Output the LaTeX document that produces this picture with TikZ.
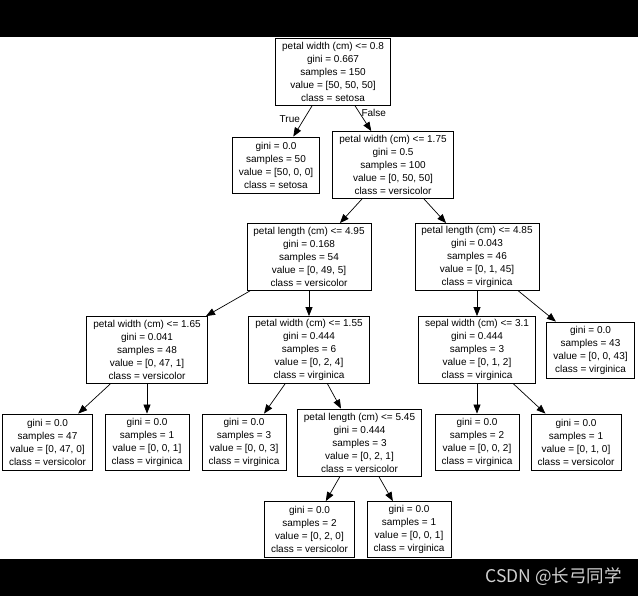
\documentclass[tikz,border=0pt]{standalone}
\usepackage{fontspec}
\setmainfont{Liberation Sans}
\newfontfamily\cjkfont{Noto Sans CJK SC}
\usetikzlibrary{arrows.meta}

\tikzset{
  splitbox/.style={draw, line width=0.8pt, align=center, inner xsep=6.5pt, inner ysep=0pt,
    minimum height=67pt, font=\fontsize{10}{13}\selectfont},
  leafbox/.style={splitbox, minimum height=56pt},
  treeedge/.style={line width=0.7pt, -{Triangle[length=9pt,width=7pt]}},
  edgelabel/.style={font=\fontsize{10}{13}\selectfont, inner sep=1.5pt},
}

\begin{document}
\begin{tikzpicture}[x=1pt, y=-1pt]

    \useasboundingbox (0,0) rectangle (638,596);
    \fill[white] (0,0) rectangle (638,596);
    \fill[black] (0,0) rectangle (638,37);
    \fill[black] (0,559) rectangle (638,596);
    \node[text=white!82!black, font=\cjkfont\fontsize{17.5}{20}\selectfont] (mark) at (553.5,577) {CSDN @长弓同学};

    \node[splitbox] (root) at (333,71.5) {petal width (cm) <= 0.8\\gini = 0.667\\samples = 150\\value = [50, 50, 50]\\class = setosa};
    \node[leafbox] (setosa) at (276,165) {gini = 0.0\\samples = 50\\value = [50, 0, 0]\\class = setosa};
    \node[splitbox] (pw175) at (393,165) {petal width (cm) <= 1.75\\gini = 0.5\\samples = 100\\value = [0, 50, 50]\\class = versicolor};

    \node[splitbox] (pl495) at (309,257) {petal length (cm) <= 4.95\\gini = 0.168\\samples = 54\\value = [0, 49, 5]\\class = versicolor};
    \node[splitbox] (pl485) at (477,257) {petal length (cm) <= 4.85\\gini = 0.043\\samples = 46\\value = [0, 1, 45]\\class = virginica};

    \node[splitbox] (pw165) at (147,350) {petal width (cm) <= 1.65\\gini = 0.041\\samples = 48\\value = [0, 47, 1]\\class = versicolor};
    \node[splitbox] (pw155) at (309,350) {petal width (cm) <= 1.55\\gini = 0.444\\samples = 6\\value = [0, 2, 4]\\class = virginica};
    \node[splitbox] (sw31) at (477,350) {sepal width (cm) <= 3.1\\gini = 0.444\\samples = 3\\value = [0, 1, 2]\\class = virginica};
    \node[leafbox] (leafa) at (590.5,350) {gini = 0.0\\samples = 43\\value = [0, 0, 43]\\class = virginica};

    \node[leafbox] (leafb) at (47.5,442) {gini = 0.0\\samples = 47\\value = [0, 47, 0]\\class = versicolor};
    \node[leafbox] (leafc) at (147,442) {gini = 0.0\\samples = 1\\value = [0, 0, 1]\\class = virginica};
    \node[leafbox] (leafd) at (244,442) {gini = 0.0\\samples = 3\\value = [0, 0, 3]\\class = virginica};
    \node[splitbox] (pl545) at (359.5,442.5) {petal length (cm) <= 5.45\\gini = 0.444\\samples = 3\\value = [0, 2, 1]\\class = versicolor};
    \node[leafbox] (leafe) at (477,442) {gini = 0.0\\samples = 2\\value = [0, 0, 2]\\class = virginica};
    \node[leafbox] (leaff) at (576,442) {gini = 0.0\\samples = 1\\value = [0, 1, 0]\\class = versicolor};

    \node[leafbox] (leafg) at (309.5,529.5) {gini = 0.0\\samples = 2\\value = [0, 2, 0]\\class = versicolor};
    \node[leafbox] (leafh) at (409,529.5) {gini = 0.0\\samples = 1\\value = [0, 0, 1]\\class = virginica};

    \draw[treeedge] (root) -- node[edgelabel, pos=0.45, left=2pt] {True} (setosa);
    \draw[treeedge] (root) -- node[edgelabel, pos=0.3, right] {False} (pw175);
    \draw[treeedge] (pw175) -- (pl495);
    \draw[treeedge] (pw175) -- (pl485);
    \draw[treeedge] (pl495) -- (pw165);
    \draw[treeedge] (pl495) -- (pw155);
    \draw[treeedge] (pl485) -- (sw31);
    \draw[treeedge] (pl485) -- (leafa);
    \draw[treeedge] (pw165) -- (leafb);
    \draw[treeedge] (pw165) -- (leafc);
    \draw[treeedge] (pw155) -- (leafd);
    \draw[treeedge] (pw155) -- (pl545);
    \draw[treeedge] (sw31) -- (leafe);
    \draw[treeedge] (sw31) -- (leaff);
    \draw[treeedge] (pl545) -- (leafg);
    \draw[treeedge] (pl545) -- (leafh);
\end{tikzpicture}
\end{document}
